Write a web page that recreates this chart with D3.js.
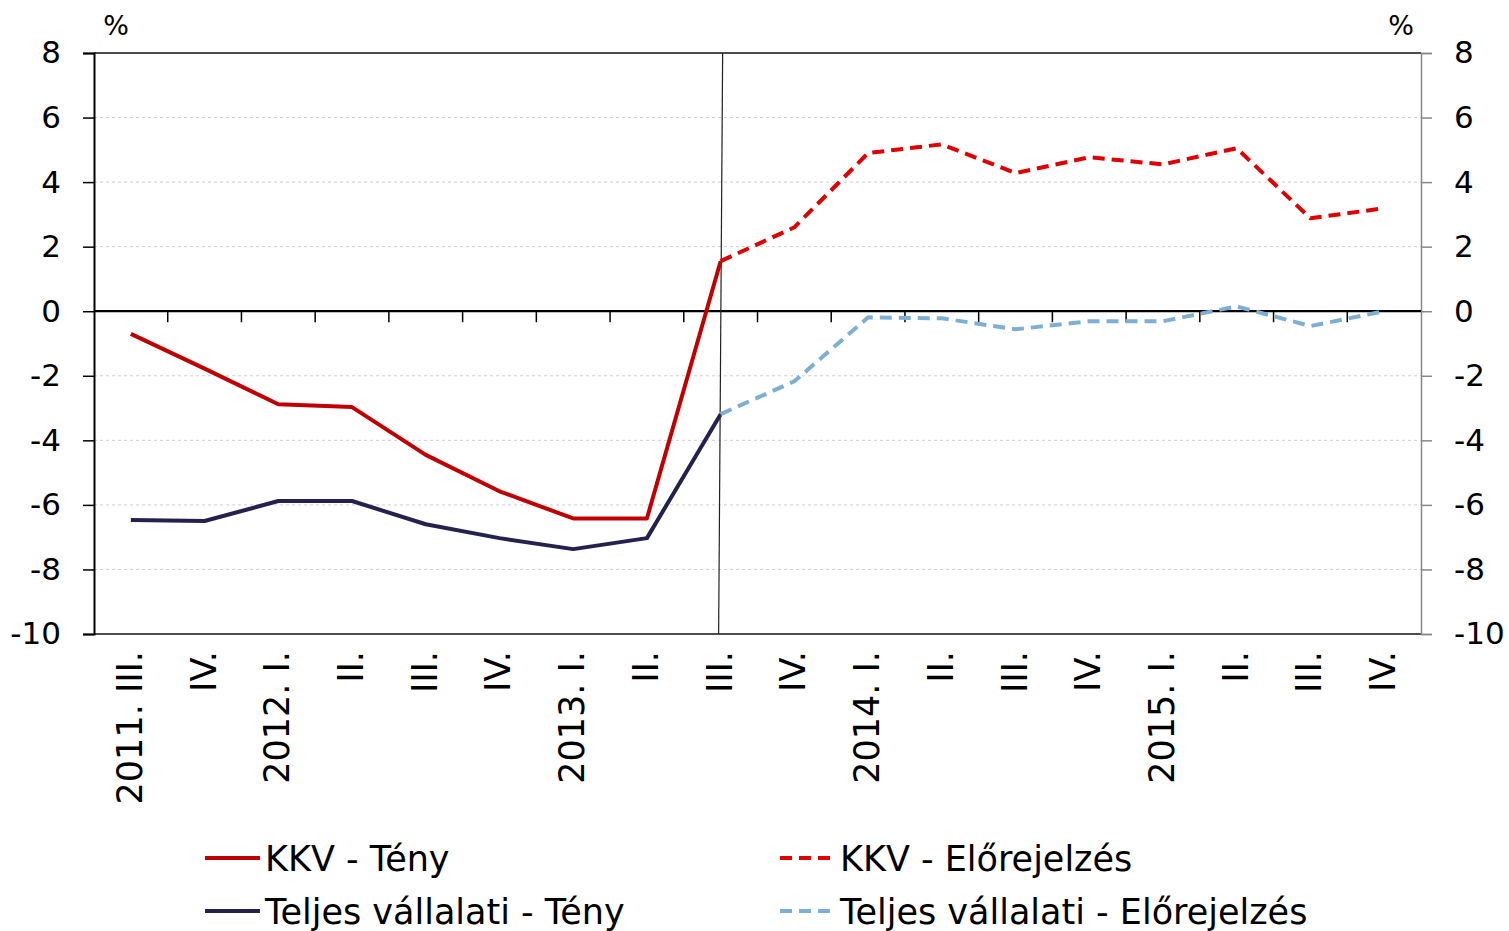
<!DOCTYPE html>
<html><head><meta charset="utf-8">
<script src="https://cdn.jsdelivr.net/npm/d3@7"></script>
<style>body{margin:0;background:#fff}svg{display:block}text{font-family:"DejaVu Sans",sans-serif;fill:#000}</style>
</head><body><svg id="c" width="1509" height="931"></svg>
<script>
const categories = ["2011. III.","IV.","2012. I.","II.","III.","IV.","2013. I.","II.","III.","IV.","2014. I.","II.","III.","IV.","2015. I.","II.","III.","IV."];
const kkvTeny = [-0.7,-1.78,-2.88,-2.97,-4.45,-5.58,-6.42,-6.42,1.55,null,null,null,null,null,null,null,null,null];
const kkvForecast = [null,null,null,null,null,null,null,null,1.55,2.6,4.9,5.17,4.28,4.77,4.55,5.05,2.88,3.19];
const teljesTeny = [-6.47,-6.5,-5.88,-5.88,-6.6,-7.03,-7.37,-7.03,-3.19,null,null,null,null,null,null,null,null,null];
const teljesForecast = [null,null,null,null,null,null,null,null,-3.19,-2.17,-0.19,-0.22,-0.56,-0.31,-0.31,0.15,-0.46,0.0];
const yTicks = [-10,-8,-6,-4,-2,0,2,4,6,8];
const seriesNames = ["KKV - Tény","KKV - Előrejelzés","Teljes vállalati - Tény","Teljes vállalati - Előrejelzés"];
const colors = {kkvT:"#C00000", kkvF:"#E00000", telT:"#25214F", telF:"#7DAFD6"};
const splitIndex = 8;

const svg = d3.select("#c");
const L=94, R=1421, T=53, B=634;
const x = d3.scaleBand().domain(categories.map((d,i)=>i)).range([L,R]).padding(0);
const y = d3.scaleLinear().domain([-10,8]).range([B,T]);
const cx = i => x(i)+x.bandwidth()/2;
const fmt = d => String(d);

// grid
svg.append("g").selectAll("line").data(yTicks.filter(v=>v!==0&&v!==-10&&v!==8)).join("line")
  .attr("x1",L).attr("x2",R).attr("y1",d=>y(d)).attr("y2",d=>y(d))
  .attr("stroke","#cfcfcf").attr("stroke-width",1).attr("stroke-dasharray","3,3");

// top & bottom border
svg.append("line").attr("x1",L).attr("x2",R).attr("y1",T).attr("y2",T).attr("stroke","#111").attr("stroke-width",1.3);
svg.append("line").attr("x1",L).attr("x2",R).attr("y1",B).attr("y2",B).attr("stroke","#111").attr("stroke-width",1.3);

// left axis
const yl = svg.append("g").attr("transform",`translate(${L},0)`)
  .call(d3.axisLeft(y).tickValues(yTicks).tickSize(11).tickPadding(22).tickFormat(fmt));
yl.select(".domain").attr("stroke","#000").attr("stroke-width",2);
yl.selectAll(".tick line").attr("stroke","#000").attr("stroke-width",1.5);
yl.selectAll("text").attr("font-size",31).attr("font-family","DejaVu Sans").attr("fill","#000");

// right axis
const yr = svg.append("g").attr("transform",`translate(${R},0)`)
  .call(d3.axisRight(y).tickValues(yTicks).tickSize(11).tickPadding(22).tickFormat(fmt));
yr.select(".domain").attr("stroke","#888").attr("stroke-width",1.5);
yr.selectAll(".tick line").attr("stroke","#888").attr("stroke-width",1.5);
yr.selectAll("text").attr("font-size",31).attr("font-family","DejaVu Sans").attr("fill","#000");

// zero line with category ticks
svg.append("line").attr("x1",L).attr("x2",R).attr("y1",y(0)).attr("y2",y(0)).attr("stroke","#000").attr("stroke-width",2.2);
svg.append("g").selectAll("line").data(d3.range(1,categories.length)).join("line")
  .attr("x1",d=>x(d)).attr("x2",d=>x(d)).attr("y1",y(0)).attr("y2",y(0)+11)
  .attr("stroke","#000").attr("stroke-width",1.5);

// vertical separator
svg.append("line").attr("x1",cx(splitIndex)+2).attr("x2",cx(splitIndex)-2).attr("y1",T).attr("y2",B)
  .attr("stroke","#222").attr("stroke-width",1.2);

// x labels
svg.append("g").selectAll("text").data(categories).join("text")
  .attr("transform",(d,i)=>`translate(${cx(i)+11},${B+17}) rotate(-90)`)
  .attr("text-anchor","end").attr("font-size",35).text(d=>d);

// % labels
svg.append("text").attr("x",116).attr("y",35).attr("text-anchor","middle").attr("font-size",27).text("%");
svg.append("text").attr("x",1401).attr("y",35).attr("text-anchor","middle").attr("font-size",27).text("%");

// lines
const line = d3.line().defined(d=>d!=null).x((d,i)=>cx(i)).y(d=>y(d));
function drawSeries(data,color,dash){
  const p = svg.append("path").attr("d",line(data)).attr("fill","none").attr("stroke",color)
    .attr("stroke-width",4).attr("stroke-linejoin","round");
  if(dash) p.attr("stroke-dasharray",dash);
}
drawSeries(teljesTeny,colors.telT,null);
drawSeries(teljesForecast,colors.telF,"12,7");
drawSeries(kkvTeny,colors.kkvT,null);
drawSeries(kkvForecast,colors.kkvF,"12,7");

// legend
const legend = [
  {name:seriesNames[0],color:colors.kkvT,dash:null,x:205,y:858},
  {name:seriesNames[1],color:colors.kkvF,dash:"12,7",x:780,y:858},
  {name:seriesNames[2],color:colors.telT,dash:null,x:205,y:911},
  {name:seriesNames[3],color:colors.telF,dash:"12,7",x:780,y:911}
];
const lg = svg.append("g").selectAll("g").data(legend).join("g").attr("transform",d=>`translate(${d.x},${d.y})`);
lg.append("line").attr("x1",0).attr("x2",d=>d.dash?52:55).attr("y1",0).attr("y2",0)
  .attr("stroke",d=>d.color).attr("stroke-width",4).attr("stroke-dasharray",d=>d.dash);
lg.append("text").attr("x",60).attr("y",0).attr("dy","0.36em").attr("font-size",35).text(d=>d.name);
</script></body></html>
